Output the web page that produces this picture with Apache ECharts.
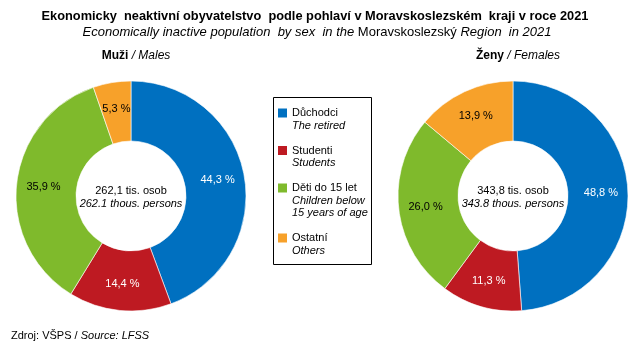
<!DOCTYPE html>
<html><head><meta charset="utf-8">
<script src="https://cdn.jsdelivr.net/npm/echarts@6/dist/echarts.min.js"></script>
<style>html,body{margin:0;padding:0;background:#fff}#c{width:643px;height:350px}</style>
</head><body><div id="c"></div>
<script>
const categoriesCz = ['Důchodci', 'Studenti', 'Děti do 15 let', 'Ostatní'];
const categoriesEn = ['The retired', 'Students', 'Children below\n15 years of age', 'Others'];
const malesPct = [44.3, 14.4, 35.9, 5.3];
const femalesPct = [48.8, 11.3, 26.0, 13.9];
const malesTotal = 262.1;
const femalesTotal = 343.8;
const colors = ['#0070C0', '#BE1A22', '#7FBA2C', '#F7A12A'];
const labelColors = ['#fff', '#fff', '#000', '#000'];

const FONT = '"Liberation Sans", Arial, sans-serif';

function fmtCz(v) { return v.toFixed(1).replace('.', ','); }

function pieSeries(vals, cx) {
  return {
    type: 'pie',
    center: [cx, 196],
    radius: [55, 115],
    startAngle: 90,
    clockwise: true,
    avoidLabelOverlap: false,
    silent: true,
    itemStyle: { borderColor: '#fff', borderWidth: 0.6 },
    label: {
      show: true, position: 'inside', fontFamily: FONT, fontSize: 11,
      formatter: p => fmtCz(p.value) + ' %'
    },
    labelLine: { show: false },
    data: vals.map((v, i) => ({
      name: categoriesCz[i], value: v,
      itemStyle: { color: colors[i] },
      label: { color: labelColors[i] }
    }))
  };
}

const graphics = [];
[[131, malesTotal], [513, femalesTotal]].forEach(([x, t]) => {
  graphics.push({ type: 'text', x: x, y: 191, style: { text: fmtCz(t) + ' tis. osob', fill: '#000', font: '11px ' + FONT, textAlign: 'center', textVerticalAlign: 'middle' } });
  graphics.push({ type: 'text', x: x, y: 204, style: { text: t.toFixed(1) + ' thous. persons', fill: '#000', font: 'italic 11px ' + FONT, textAlign: 'center', textVerticalAlign: 'middle' } });
});
graphics.push({ type: 'rect', shape: { x: 273.5, y: 97.5, width: 98, height: 167 }, style: { fill: '#fff', stroke: '#000', lineWidth: 1 } });
let ly = 113;
categoriesCz.forEach((c, i) => {
  graphics.push({ type: 'rect', shape: { x: 278, y: ly - 4.5, width: 9, height: 9 }, style: { fill: colors[i] } });
  graphics.push({ type: 'text', x: 292, y: ly, style: { text: c, fill: '#000', font: '11px ' + FONT, textVerticalAlign: 'middle' } });
  const en = categoriesEn[i].split('\n');
  en.forEach((e, j) => {
    graphics.push({ type: 'text', x: 292, y: ly + 12.5 * (j + 1), style: { text: e, fill: '#000', font: 'italic 11px ' + FONT, textVerticalAlign: 'middle' } });
  });
  ly += (en.length + 1) * 12.5 + 12.5;
});

const N = { fontFamily: FONT, fontWeight: 'normal', fontStyle: 'normal', color: '#000' };
const I = { fontFamily: FONT, fontWeight: 'normal', fontStyle: 'italic', color: '#000' };
const B = { fontFamily: FONT, fontWeight: 'bold', fontStyle: 'normal', color: '#000' };

const chart = echarts.init(document.getElementById('c'), null, { renderer: 'canvas' });
chart.setOption({
  animation: false,
  backgroundColor: '#fff',
  title: [
    {
      text: 'Ekonomicky  neaktivní obyvatelstvo  podle pohlaví v Moravskoslezském  kraji v roce 2021',
      left: 310, top: 5, textAlign: 'center',
      textStyle: { fontFamily: FONT, fontSize: 12.8, fontWeight: 'bold', color: '#000' }
    },
    {
      text: '{i|Economically inactive population  by sex  in the }{n|Moravskoslezský}{i| Region  in 2021}',
      left: 312, top: 21, textAlign: 'center',
      textStyle: { fontWeight: 'normal', rich: {
        i: Object.assign({ fontSize: 13 }, I),
        n: Object.assign({ fontSize: 13 }, N) } }
    },
    {
      text: '{b|Muži}{i| / Males}', left: 131, top: 45, textAlign: 'center',
      textStyle: { fontWeight: 'normal', rich: {
        b: Object.assign({ fontSize: 12 }, B),
        i: Object.assign({ fontSize: 12 }, I) } }
    },
    {
      text: '{b|Ženy}{i| / Females}', left: 513, top: 45, textAlign: 'center',
      textStyle: { fontWeight: 'normal', rich: {
        b: Object.assign({ fontSize: 12 }, B),
        i: Object.assign({ fontSize: 12 }, I) } }
    },
    {
      text: '{n|Zdroj: VŠPS / }{i|Source: LFSS}', left: 6, top: 325,
      textStyle: { fontWeight: 'normal', rich: {
        n: Object.assign({ fontSize: 11 }, N),
        i: Object.assign({ fontSize: 11 }, I) } }
    }
  ],
  series: [pieSeries(malesPct, 131), pieSeries(femalesPct, 513)],
  graphic: graphics
});
</script>
</body></html>
